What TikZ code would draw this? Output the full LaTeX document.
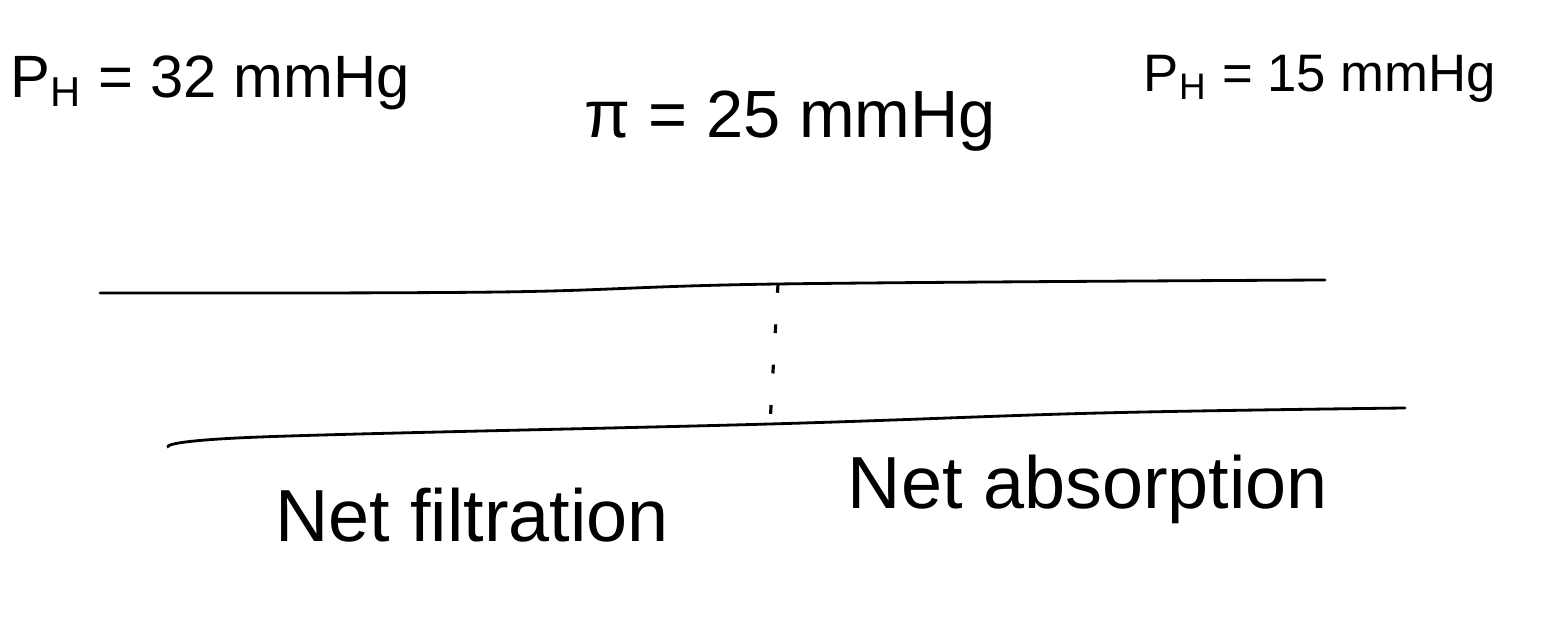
\documentclass[tikz,border=0pt]{standalone}
\usepackage{fontspec}
\setsansfont{Liberation Sans}

\begin{document}
\begin{tikzpicture}[
  font=\sffamily,
  pressure/.style={font=\sffamily\fontsize{17}{20}\selectfont,inner sep=1pt},
  outcome/.style={font=\sffamily\fontsize{21}{25}\selectfont,inner sep=1pt},
  wall/.style={line width=0.8pt,line cap=round},
  divider/.style={line width=0.9pt,dash pattern=on 2.5pt off 9pt}
]
\useasboundingbox (0,0) rectangle (15.41,6.21);

% pressures along the capillary
\node[pressure] (hydroA) at (2.10,5.38) {P\textsubscript{H} = 32 mmHg};
\node[pressure,font=\sffamily\fontsize{19}{22}\selectfont] (oncotic) at (7.90,5.00)
  {π = 25 mmHg};
\node[pressure,font=\sffamily\fontsize{15}{18}\selectfont] (hydroV) at (13.20,5.42)
  {P\textsubscript{H} = 15 mmHg};

% capillary walls
\coordinate (topL) at (1.00,3.28);
\coordinate (topM) at (7.78,3.37);
\coordinate (topR) at (13.25,3.41);
\coordinate (botL) at (1.68,1.74);
\coordinate (botM) at (7.70,1.97);
\coordinate (botR) at (14.05,2.13);
\draw[wall] plot[smooth,tension=0.6] coordinates
  {(topL) (5.00,3.29) (topM) (topR)};
\draw[wall] plot[smooth,tension=0.6] coordinates
  {(botL) (2.60,1.84) (botM) (11.00,2.08) (botR)};
\draw[divider] (topM) -- (botM);

% what happens on each side
\node[outcome] (filt) at (4.72,1.06) {Net filtration};
\node[outcome] (absorb) at (10.88,1.32) {Net absorption};
\end{tikzpicture}
\end{document}
